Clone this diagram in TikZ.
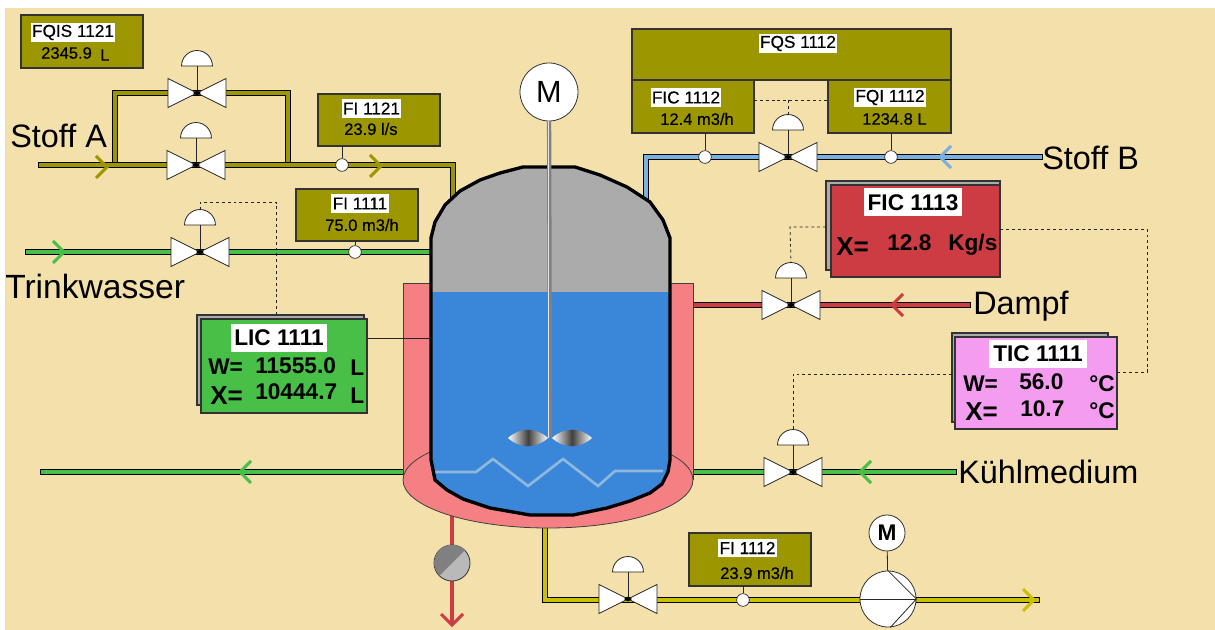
\documentclass[tikz,border=0pt]{standalone}
\usepackage{fontspec}
\setmainfont{Liberation Sans}
\newfontfamily\semibold[FakeBold=0.4]{Liberation Sans}
\usepackage{tikz}
\usetikzlibrary{positioning, shapes.geometric}
\definecolor{paper}{HTML}{F3E0AA}
\definecolor{olivebox}{HTML}{9C9600}
\definecolor{bluepipe}{HTML}{7AB0E0}
\definecolor{redpipe}{HTML}{CC3C42}
\definecolor{greenpipe}{HTML}{48C048}
\definecolor{yellowpipe}{HTML}{C8C000}
\definecolor{pinkbox}{HTML}{F49CF0}
\definecolor{jacket}{HTML}{F48084}
\definecolor{gas}{HTML}{ABABAB}
\definecolor{water}{HTML}{3A86D8}
\definecolor{coil}{HTML}{8FB8DC}
\newcommand{\tankoutline}{(431,238) -- (435,222) -- (445,205) -- (460,191) -- (480,180) -- (500,173) -- (523,167) -- (575,167) -- (600,175) -- (627,187) -- (650,202) -- (663,220) -- (670,238) -- (670,460) -- (668,472) -- (662,484) -- (650,493) -- (630,501) -- (607,508) -- (573,515) -- (530,515) -- (490,508) -- (463,499) -- (447,490) -- (435,480) -- (431,460) -- cycle}
\tikzset{
	pipe/.style={draw=black, double=#1, double distance=3.7pt, line width=.75pt, line cap=rect},
	wire/.style={draw=black!85, line width=.6pt},
	sig/.style={draw=black!85, line width=.6pt, dash pattern=on 2.2pt off 2.2pt},
	probe/.style={circle, draw=black!85, fill=white, line width=.5pt, minimum size=9.5pt, inner sep=0pt},
	box/.style={draw=black!80, fill=#1, line width=.8pt, anchor=north west, inner sep=0pt, outer sep=0pt},
	size/.style 2 args={minimum width=#1*.75pt, minimum height=#2*.75pt},
	tagS/.style={fill=white, font=\fontsize{12.9}{14}\selectfont\semibold, inner sep=0pt, minimum height=14.2pt},
	tagL/.style={fill=white, font=\fontsize{17}{19}\selectfont\bfseries, inner sep=0pt, minimum height=21pt},
	valS/.style={font=\fontsize{12.4}{14}\selectfont\semibold, inner sep=0pt, anchor=west},
	valL/.style={font=\fontsize{17}{19}\selectfont\bfseries, inner sep=0pt, anchor=west},
	valX/.style={font=\fontsize{19.5}{21}\selectfont\bfseries, inner sep=0pt, anchor=west},
	medium/.style={font=\fontsize{24.3}{26}\selectfont, inner sep=0pt, anchor=west},
	valve/.pic={
		\filldraw[fill=white, draw=black!85, line width=.6pt] (0,0) -- (-29,-14.5) -- (-29,14.5) -- cycle;
		\filldraw[fill=white, draw=black!85, line width=.6pt] (0,0) -- (29,-14.5) -- (29,14.5) -- cycle;
		\draw[black!85, line width=.7pt] (0,0) -- (0,-27);
		\filldraw[fill=white, draw=black!85, line width=.6pt] (-15.5,-27) arc[start angle=180, end angle=0, radius=11.6pt] -- cycle;
		\fill[black] (-4,0) -- (0,-2.5) -- (4,0) -- (0,2.5) -- cycle;
		\coordinate (-top) at (0,-42);
	},
	chevron/.pic={
		\draw[line width=2.2pt] (-11,-11) -- (0,0) -- (-11,11);
	},
}
\begin{document}
\begin{tikzpicture}[x=.75pt, y=-.75pt]
	\useasboundingbox (0,0) rectangle (1215,630);
	\fill[paper] (5,8) rectangle (1215,630);

	% valve centres and pipe ends
	\coordinate (vA1) at (197,93);
	\coordinate (vA2) at (196,165);
	\coordinate (vT) at (200,252);
	\coordinate (vB) at (788,157);
	\coordinate (vD) at (791,305);
	\coordinate (vK) at (793,472);
	\coordinate (vY) at (628,599);
	\coordinate (teeL) at (115,165);
	\coordinate (teeR) at (288,165);
	\coordinate (inA) at (41,165);
	\coordinate (bendA) at (453,165);
	\coordinate (tankA) at (453,200);
	\coordinate (inT) at (28,252);
	\coordinate (tankT) at (435,252);
	\coordinate (inB) at (1040,157);
	\coordinate (bendB) at (646,157);
	\coordinate (tankB) at (646,200);
	\coordinate (inD) at (968,305);
	\coordinate (jackD) at (693,305);
	\coordinate (inK) at (954,472);
	\coordinate (jackK) at (693,472);
	\coordinate (outK) at (43,472);
	\coordinate (jackL) at (403,472);
	\coordinate (outY) at (545,525);
	\coordinate (bendY) at (545,600);
	\coordinate (endY) at (1037,600);

	% pipes
	\draw[pipe=olivebox] (teeL) |- (vA1) -| (teeR);
	\draw[pipe=olivebox] (inA) -- (bendA) -- (tankA);
	\draw[pipe=greenpipe] (inT) -- (tankT);
	\draw[pipe=bluepipe] (inB) -- (bendB) -- (tankB);
	\draw[pipe=redpipe] (inD) -- (jackD);
	\draw[pipe=greenpipe] (inK) -- (jackK);
	\draw[pipe=greenpipe] (outK) -- (jackL);
	\draw[pipe=yellowpipe] (outY) -- (bendY) -- (endY);

	% vessel
	\filldraw[fill=jacket, draw=black!75, line width=.6pt] (403,480) -- (403,283) -- (693,283) -- (693,480);
	\coordinate (drainTop) at (452,515);
	\coordinate (drainEnd) at (452,625);
	\draw[redpipe, line width=2.4pt] (drainTop) -- (drainEnd);
	\filldraw[fill=jacket, draw=black!75, line width=.6pt] (548,480) ellipse [x radius=145, y radius=48];
	\fill[gas] \tankoutline;
	\begin{scope}
		\clip \tankoutline;
		\fill[water] (420,292) rectangle (680,530);
		\draw[coil, line width=2pt] (435,472) -- (476,472) -- (493,459) -- (528,486) -- (563,459) -- (598,486) -- (615,471) -- (663,471);
	\end{scope}
	\draw[black, line width=2.5pt, line join=round] \tankoutline;

	% agitator
	\node[circle, draw=black!80, fill=white, line width=.6pt, minimum size=43.5pt, inner sep=0pt, font=\fontsize{23}{25}\selectfont] (motor) at (549,92) {M};
	\coordinate (hub) at (550,438);
	\draw[gray, line width=3.2pt] (motor) -- (hub);
	\draw[white!80!gray, line width=.8pt] (548.5,121) -- (548.5,438);
	\shade[left color=white, right color=white, middle color=black!75] (508,438) .. controls (520,427) and (536,427) .. (548,438) .. controls (536,449) and (520,449) .. (508,438);
	\shade[left color=white, right color=white, middle color=black!75] (552,438) .. controls (564,427) and (580,427) .. (592,438) .. controls (580,449) and (564,449) .. (552,438);

	% drain
	\node[circle, draw=black!80, line width=.6pt, fill=gray!55, minimum size=27pt, inner sep=0pt] (sight) at (452,563) {};
	\fill[black!50] (sight.45) arc[start angle=45, end angle=225, radius=13.5pt] -- cycle;
	\pic[draw=redpipe] at (drainEnd) [rotate=-90] {chevron};

	% flow direction
	\pic[draw=olivebox] at (107,167) {chevron};
	\pic[draw=olivebox] at (381,166) {chevron};
	\pic[draw=greenpipe] at (64,252) {chevron};
	\pic[draw=bluepipe, rotate=180] at (940,157) {chevron};
	\pic[draw=redpipe, rotate=180] at (892,305) {chevron};
	\pic[draw=greenpipe, rotate=180] at (860,472) {chevron};
	\pic[draw=greenpipe, rotate=180] at (240,472) {chevron};
	\pic[draw=yellowpipe] at (1034,600) {chevron};

	% valves
	\pic (vA1) at (vA1) {valve};
	\pic (vA2) at (vA2) {valve};
	\pic (vT) at (vT) {valve};
	\pic (vB) at (vB) {valve};
	\pic (vD) at (vD) {valve};
	\pic (vK) at (vK) {valve};
	\pic (vY) at (vY) {valve};

	% pump
	\node[circle, draw=black!80, fill=white, line width=.6pt, minimum size=42pt, inner sep=0pt] (pump) at (888,599) {};
	\node[circle, draw=black!80, fill=white, line width=.6pt, minimum size=27pt, inner sep=0pt, font=\fontsize{17}{19}\selectfont\bfseries] (pumpM) at (887,533) {M};
	\draw[wire] (pumpM) -- (pump);
	\draw[wire] (pump.west) -- (pump.east);
	\draw[wire] (pump.90) -- (pump.east) -- (pump.-85);

	% instruments
	\node[box=olivebox, size={122}{53}] (fqis) at (21,15) {};
	\node[tagS, minimum width=63pt] (fqisT) at (73,32.5) {FQIS 1121};
	\node[valS] (fqisV) at (41,53) {2345.9};
	\node[valS] (fqisU) at (100,55) {L};

	\node[box=olivebox, size={122}{52}] (fi21) at (318,94) {};
	\node[tagS, minimum width=44pt] (fi21T) at (371.5,108.5) {FI 1121};
	\node[valS] (fi21V) at (344,129) {23.9 l/s};
	\node[probe] (fi21P) at (342,165) {};
	\draw[wire] (fi21P) -- (fi21P |- fi21.south);

	\node[box=olivebox, size={122}{52}] (fi11) at (296,189) {};
	\node[tagS, minimum width=44pt] (fi11T) at (360,203.5) {FI 1111};
	\node[valS] (fi11V) at (325,225) {75.0 m3/h};
	\node[probe] (fi11P) at (355,252) {};
	\draw[wire] (fi11P) -- (fi11P |- fi11.south);

	\node[box=olivebox, size={319}{51}] (fqs) at (632,29) {};
	\node[tagS, minimum width=59pt] (fqsT) at (798,43.5) {FQS 1112};
	\node[box=olivebox, size={122}{53}] (fic12) at (632,80) {};
	\node[tagS, minimum width=53pt] (fic12T) at (686,97.5) {FIC 1112};
	\node[valS] (fic12V) at (660,119) {12.4 m3/h};
	\node[box=olivebox, size={123}{53}] (fqi) at (828,80) {};
	\node[tagS, minimum width=54pt] (fqiT) at (890,97.5) {FQI 1112};
	\node[valS] (fqiV) at (862,119) {1234.8 L};
	\node[probe] (fic12P) at (705,157) {};
	\node[probe] (fqiP) at (891,157) {};
	\draw[wire] (fic12P) -- (fic12P |- fic12.south);
	\draw[wire] (fqiP) -- (fqiP |- fqi.south);
	\coordinate (vBup) at (788,100);
	\draw[sig] (fic12.east |- vBup) -- (fqi.west |- vBup);
	\draw[sig] (vBup) -- (vB-top);

	\node[box=olivebox, size={122}{53}] (fi12) at (689,533) {};
	\node[tagS, minimum width=44pt] (fi12T) at (747.5,548) {FI 1112};
	\node[valS] (fi12V) at (720,573) {23.9 m3/h};
	\node[probe] (fi12P) at (743,600) {};
	\draw[wire] (fi12P) -- (fi12P |- fi12.south);

	\node[box=gas, size={167}{90}] (licS) at (197,315) {};
	\node[box=greenpipe, size={166}{94}] (lic) at (201,319) {};
	\node[tagL, minimum width=72pt] (licT) at (279,338) {LIC 1111};
	\node[valL] (licW) at (208,367) {W=};
	\node[valL] (licWV) at (255,366) {11555.0};
	\node[valL] (licWU) at (350,368) {L};
	\node[valX] (licX) at (210,396) {X=};
	\node[valL] (licXV) at (255,392) {10444.7};
	\node[valL] (licXU) at (350,396) {L};
	\coordinate (licUp) at (276,202);
	\draw[sig] (licS.north -| licUp) -- (licUp) -| (vT-top);
	\coordinate (tankL) at (431,338);
	\draw[wire] (lic.east |- tankL) -- (tankL);

	\node[box=gas, size={174}{89}] (ficS) at (826,181) {};
	\node[box=redpipe, size={169}{92}] (fic) at (831,185) {};
	\node[tagL, minimum width=73.5pt] (ficT) at (913,202.5) {FIC 1113};
	\node[valX] (ficX) at (836,247) {X=};
	\node[valL] (ficV) at (887,243) {12.8};
	\node[valL] (ficU) at (948,245) {Kg/s};
	\coordinate (ficDn) at (790,227);
	\draw[sig] (ficS.west |- ficDn) -- (ficDn) -- (vD-top);

	\node[box=gas, size={156}{89}] (ticS) at (952,333) {};
	\node[box=pinkbox, size={162}{92}] (tic) at (955,337) {};
	\node[tagL, minimum width=73.5pt] (ticT) at (1038,354) {TIC 1111};
	\node[valL] (ticW) at (963,384) {W=};
	\node[valL] (ticWV) at (1019,382) {56.0};
	\node[valL] (ticWU) at (1089,384) {°C};
	\node[valX] (ticX) at (965,412) {X=};
	\node[valL] (ticXV) at (1020,409) {10.7};
	\node[valL] (ticXU) at (1089,411) {°C};
	\coordinate (ticLn) at (793,374);
	\draw[sig] (ticS.west |- ticLn) -- (ticLn) -- (vK-top);
	\coordinate (ficRt) at (1147,229);
	\coordinate (ticRt) at (1147,372);
	\draw[sig] (fic.east |- ficRt) -- (ficRt) -- (ticRt) -- (tic.east |- ticRt);

	% media
	\node[medium] (stoffA) at (10,136) {Stoff A};
	\node[medium, font=\fontsize{25.2}{27}\selectfont] (trink) at (5,286) {Trinkwasser};
	\node[medium] (stoffB) at (1042,158) {Stoff B};
	\node[medium] (dampf) at (973,306) {Dampf};
	\node[medium] (kuehl) at (958,472) {Kühlmedium};
\end{tikzpicture}
\end{document}
